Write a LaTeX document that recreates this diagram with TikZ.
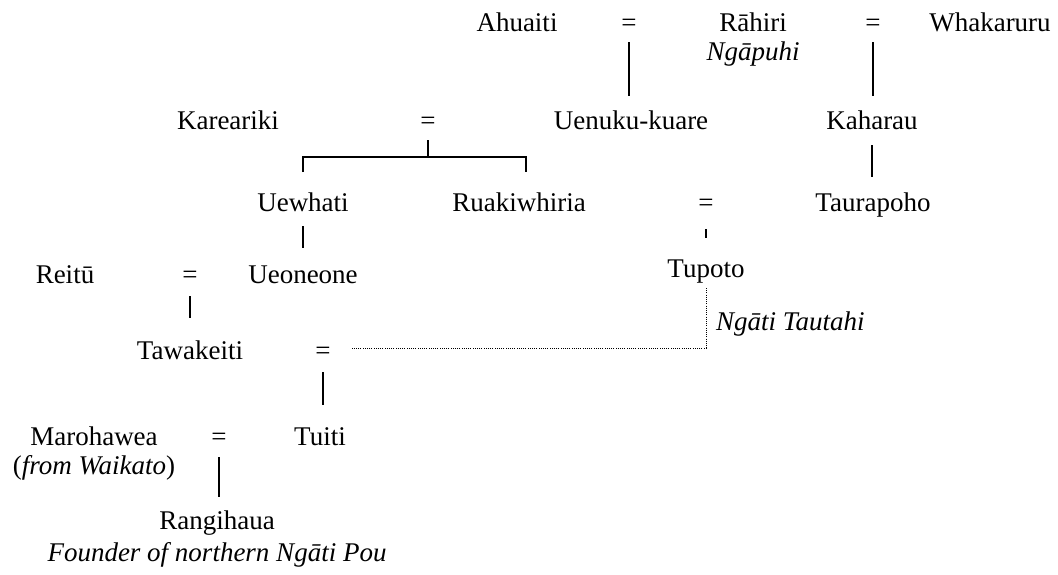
\documentclass[tikz,border=0pt]{standalone}
\usepackage{fontspec}
\setmainfont{Liberation Serif}
\begin{document}
\begin{tikzpicture}[x=1pt,y=-1pt,
  every node/.style={inner sep=0pt,anchor=base,font=\fontsize{27}{30}\selectfont},
  ln/.style={line width=1.4pt},
  dot/.style={line width=1pt,dotted,dash pattern=on 0.9pt off 1.3pt}]
\useasboundingbox (0,0) rectangle (1058,574);
% row 1
\node (ahu) at (517,31) {Ahuaiti};
\node (e1) at (629,31) {=};
\node (rah) at (753,31) {Rāhiri};
\node (ngp) at (753,60) {\itshape Ngāpuhi};
\node (e2) at (873,31) {=};
\node (wha) at (990,31) {Whakaruru};
% row 2
\node (kar) at (228,129) {Kareariki};
\node (e3) at (428,129) {=};
\node (uen) at (631,129) {Uenuku-kuare};
\node (kah) at (872,129) {Kaharau};
% row 3
\node (uew) at (303,211) {Uewhati};
\node (rua) at (519,211) {Ruakiwhiria};
\node (e4) at (706,211) {=};
\node (tau) at (873,211) {Taurapoho};
% row 4
\node (rei) at (65,283) {Reitū};
\node (e5) at (190,283) {=};
\node (ueo) at (303,283) {Ueoneone};
\node (tup) at (706,277) {Tupoto};
\node[anchor=base west] (ngt) at (716,330) {\itshape Ngāti Tautahi};
% row 5
\node (taw) at (190,359) {Tawakeiti};
\node (e6) at (323,359) {=};
% row 6
\node (mar) at (94,445) {Marohawea};
\node (fw) at (94,474) {(\textit{from Waikato})};
\node (e7) at (219,445) {=};
\node (tui) at (320,445) {Tuiti};
\node (ran) at (217,529) {Rangihaua};
\node (fou) at (217,561) {\itshape Founder of northern Ngāti Pou};
% lines
\draw[ln] ([yshift=-11pt]e1.base) -- ([xshift=-2pt,yshift=33pt]uen.base);
\draw[ln] ([yshift=-11pt]e2.base) -- ([xshift=1pt,yshift=33pt]kah.base);
\draw[ln] ([yshift=-16pt]kah.base) -- ([xshift=-1pt,yshift=34pt]tau.base);
\draw[ln] ([yshift=-11pt]e3.base) -- ([yshift=-28pt]e3.base);
\draw[ln] ([yshift=39pt]uew.base) |- ([yshift=-28pt]e3.base) -| ([xshift=7pt,yshift=39pt]rua.base);
\draw[ln] ([yshift=-15pt]uew.base) -- ([yshift=35pt]ueo.base);
\draw[ln] ([yshift=-18pt]e4.base) -- ([yshift=39pt]tup.base);
\draw[ln] ([yshift=-13pt]e5.base) -- ([yshift=41pt]taw.base);
\draw[ln] ([yshift=-13pt]e6.base) -- ([xshift=3pt,yshift=40pt]tui.base);
\draw[ln] ([yshift=-12pt]e7.base) -- ([xshift=2pt,yshift=32pt]ran.base);
\draw[dot] ([yshift=-11pt]tup.base) |- ([xshift=29pt,yshift=11pt]e6.base);
\end{tikzpicture}
\end{document}
